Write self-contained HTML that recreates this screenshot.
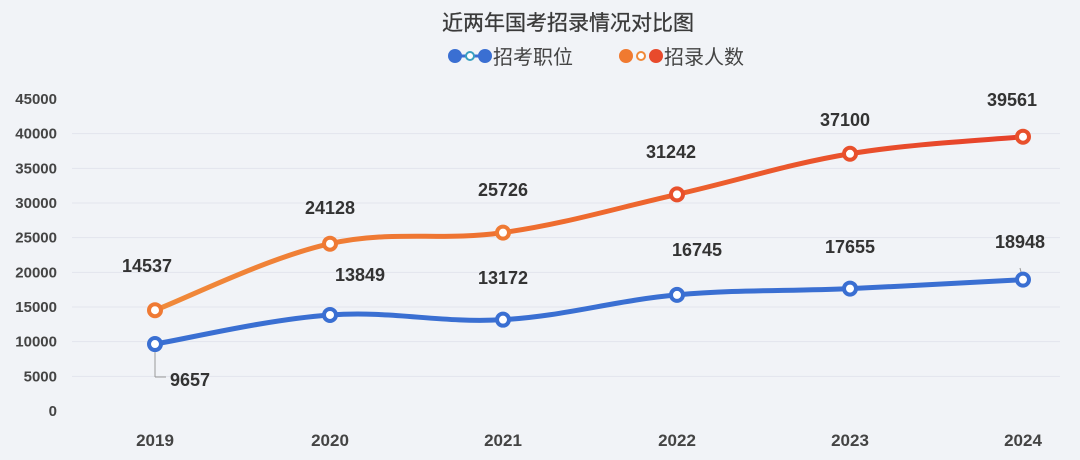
<!DOCTYPE html>
<html><head><meta charset="utf-8"><style>
html,body{margin:0;padding:0;background:#f1f3f7;}
svg{display:block}
text{font-family:"Liberation Sans","Noto Sans CJK SC",sans-serif;}
</style></head><body>
<svg id="c" width="1080" height="460" viewBox="0 0 1080 460" xmlns="http://www.w3.org/2000/svg">
<defs>
<linearGradient id="og" x1="0" x2="1" y1="0" y2="0">
<stop offset="0" stop-color="#f08a3a"/><stop offset="0.5" stop-color="#ee6a2e"/><stop offset="1" stop-color="#e6402a"/>
</linearGradient>
<linearGradient id="lo" x1="0" x2="1"><stop offset="0" stop-color="#f08a3a"/><stop offset="1" stop-color="#e6402a"/></linearGradient>
</defs>
<rect width="1080" height="460" fill="#f1f3f7"/>
<text x="568" y="30" font-size="21" fill="#3a3a3a" text-anchor="middle" stroke="#3a3a3a" stroke-width="0.3">近两年国考招录情况对比图</text>
<g>
<line x1="452" y1="56" x2="488" y2="56" stroke="#3a6fd2" stroke-width="3"/>
<circle cx="455" cy="56" r="7" fill="#3a6fd2"/><circle cx="470" cy="56" r="4" fill="#fff" stroke="#3aa0c0" stroke-width="2"/><circle cx="485" cy="56" r="7" fill="#3a6fd2"/>
<text x="493" y="64" font-size="20" fill="#444">招考职位</text>
<line x1="623" y1="56" x2="659" y2="56" stroke="url(#lo)" stroke-width="3"/>
<circle cx="626" cy="56" r="7" fill="#f07a30"/><circle cx="641" cy="56" r="4" fill="#fff" stroke="#f08a3a" stroke-width="2"/><circle cx="656" cy="56" r="7" fill="#e84a2c"/>
<text x="664" y="64" font-size="20" fill="#444">招录人数</text>
</g>
<g id="grid" stroke="#e2e5ec" stroke-width="1"></g>
<g id="yl" font-size="15" font-weight="bold" fill="#444" text-anchor="end"></g>
<g id="xl" font-size="17" font-weight="bold" fill="#444" text-anchor="middle"></g>
<path id="pb" fill="none" stroke="#3a6fd2" stroke-width="5" stroke-linecap="round"/>
<path id="po" fill="none" stroke="url(#og)" stroke-width="5" stroke-linecap="round"/>
<line x1="155" y1="344" x2="155" y2="377" stroke="#999" stroke-width="1"/><line x1="155" y1="377" x2="166" y2="377" stroke="#999" stroke-width="1"/>
<line x1="1023" y1="280" x2="1020" y2="268" stroke="#999" stroke-width="1"/>
<g id="pts"></g>
<g id="lb" font-size="18" font-weight="bold" fill="#333" text-anchor="middle"></g>
</svg>
<script>
var NS="http://www.w3.org/2000/svg";
function Y(v){return 411-v*312/45000;}
var xs=[155,330,503,677,850,1023];
var b=[9657,13849,13172,16745,17655,18948], o=[14537,24128,25726,31242,37100,39561];
var g=document.getElementById('grid'),yl=document.getElementById('yl'),xl=document.getElementById('xl');
function el(t,a,p,txt){var e=document.createElementNS(NS,t);for(var k in a)e.setAttribute(k,a[k]);if(txt)e.textContent=txt;p.appendChild(e);return e;}
for(var v=0;v<=45000;v+=5000){var y=Y(v);if(v>0&&v<45000)el('line',{x1:72,x2:1060,y1:y,y2:y},g);el('text',{x:57,y:y+5},yl,String(v));}
for(var i=0;i<6;i++)el('text',{x:xs[i],y:446},xl,String(2019+i));
function path(d){var p=d.map(function(v,i){return[xs[i],Y(v)];});var s="M"+p[0][0]+","+p[0][1];
for(var i=0;i<p.length-1;i++){var p0=p[i-1]||p[i],p1=p[i],p2=p[i+1],p3=p[i+2]||p2;var t=0.18;
s+=" C"+(p1[0]+(p2[0]-p0[0])*t)+","+(p1[1]+(p2[1]-p0[1])*t)+" "+(p2[0]-(p3[0]-p1[0])*t)+","+(p2[1]-(p3[1]-p1[1])*t)+" "+p2[0]+","+p2[1];}return s;}
document.getElementById('pb').setAttribute('d',path(b));document.getElementById('po').setAttribute('d',path(o));
var pts=document.getElementById('pts');
for(var i=0;i<6;i++){el('circle',{cx:xs[i],cy:Y(b[i]),r:6,fill:"#fff",stroke:"#3a6fd2","stroke-width":4},pts);
el('circle',{cx:xs[i],cy:Y(o[i]),r:6,fill:"#fff",stroke:i<3?"#ef7a34":"#e8502c","stroke-width":4},pts);}
var lb=document.getElementById('lb');
var L=[[147,272,"14537"],[330,214,"24128"],[503,196,"25726"],[671,158,"31242"],[845,126,"37100"],[1012,106,"39561"],
[190,386,"9657"],[360,281,"13849"],[503,284,"13172"],[697,256,"16745"],[850,253,"17655"],[1020,248,"18948"]];
L.forEach(function(l){el('text',{x:l[0],y:l[1]},lb,l[2]);});
</script>
</body></html>
